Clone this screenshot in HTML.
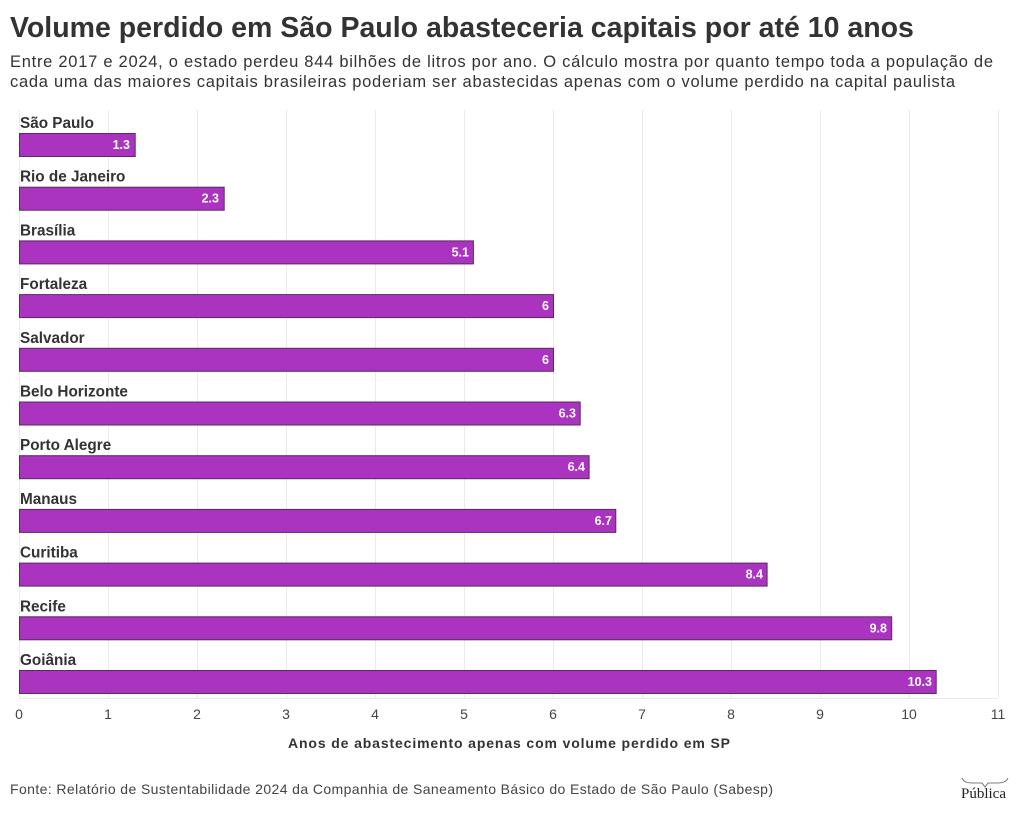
<!DOCTYPE html><html><head><meta charset="utf-8"><style>
body{margin:0;background:#fff;width:1020px;height:812px;overflow:hidden;font-family:"Liberation Sans",sans-serif;color:#333}
</style></head><body>
<svg width="1020" height="812" xmlns="http://www.w3.org/2000/svg" font-family="Liberation Sans, sans-serif">
<text x="10" y="37" font-size="28.5" font-weight="bold" fill="#333">Volume perdido em São Paulo abasteceria capitais por até 10 anos</text>
<text x="10" y="67" font-size="16.5" fill="#333" textLength="983" lengthAdjust="spacing">Entre 2017 e 2024, o estado perdeu 844 bilhões de litros por ano. O cálculo mostra por quanto tempo toda a população de</text>
<text x="10" y="87" font-size="16.5" fill="#333" textLength="945" lengthAdjust="spacing">cada uma das maiores capitais brasileiras poderiam ser abastecidas apenas com o volume perdido na capital paulista</text>
<g stroke="#ebebeb" stroke-width="1">
<line x1="19.5" y1="110" x2="19.5" y2="698"/><line x1="108.5" y1="110" x2="108.5" y2="698"/><line x1="197.5" y1="110" x2="197.5" y2="698"/><line x1="286.5" y1="110" x2="286.5" y2="698"/><line x1="375.5" y1="110" x2="375.5" y2="698"/><line x1="464.5" y1="110" x2="464.5" y2="698"/><line x1="553.5" y1="110" x2="553.5" y2="698"/><line x1="642.5" y1="110" x2="642.5" y2="698"/><line x1="731.5" y1="110" x2="731.5" y2="698"/><line x1="820.5" y1="110" x2="820.5" y2="698"/><line x1="909.5" y1="110" x2="909.5" y2="698"/><line x1="998.5" y1="110" x2="998.5" y2="698"/>
<line x1="19" y1="698.5" x2="998" y2="698.5"/>
</g>
<g font-size="14" fill="#444" text-anchor="middle">
<text x="19" y="719">0</text><text x="108" y="719">1</text><text x="197" y="719">2</text><text x="286" y="719">3</text><text x="375" y="719">4</text><text x="464" y="719">5</text><text x="553" y="719">6</text><text x="642" y="719">7</text><text x="731" y="719">8</text><text x="820" y="719">9</text><text x="909" y="719">10</text><text x="998" y="719">11</text>
</g>
<text x="288" y="748" font-size="14" font-weight="bold" fill="#333" textLength="442" lengthAdjust="spacing">Anos de abastecimento apenas com volume perdido em SP</text>
<g id="bars" font-weight="bold">
<g transform="translate(0,133)"><text x="20" y="-5" font-size="15.3" fill="#333">São Paulo</text><rect x="19.5" y="0.5" width="115.7" height="23" fill="#aa33c0" stroke="#5a2a60"/><text x="130" y="16" font-size="12.5" fill="#fff" text-anchor="end">1.3</text></g>
<g transform="translate(0,186.7)"><text x="20" y="-5" font-size="15.3" fill="#333">Rio de Janeiro</text><rect x="19.5" y="0.5" width="204.7" height="23" fill="#aa33c0" stroke="#5a2a60"/><text x="219" y="16" font-size="12.5" fill="#fff" text-anchor="end">2.3</text></g>
<g transform="translate(0,240.4)"><text x="20" y="-5" font-size="15.3" fill="#333">Brasília</text><rect x="19.5" y="0.5" width="453.9" height="23" fill="#aa33c0" stroke="#5a2a60"/><text x="469" y="16" font-size="12.5" fill="#fff" text-anchor="end">5.1</text></g>
<g transform="translate(0,294.1)"><text x="20" y="-5" font-size="15.3" fill="#333">Fortaleza</text><rect x="19.5" y="0.5" width="534" height="23" fill="#aa33c0" stroke="#5a2a60"/><text x="549" y="16" font-size="12.5" fill="#fff" text-anchor="end">6</text></g>
<g transform="translate(0,347.8)"><text x="20" y="-5" font-size="15.3" fill="#333">Salvador</text><rect x="19.5" y="0.5" width="534" height="23" fill="#aa33c0" stroke="#5a2a60"/><text x="549" y="16" font-size="12.5" fill="#fff" text-anchor="end">6</text></g>
<g transform="translate(0,401.5)"><text x="20" y="-5" font-size="15.3" fill="#333">Belo Horizonte</text><rect x="19.5" y="0.5" width="560.7" height="23" fill="#aa33c0" stroke="#5a2a60"/><text x="576" y="16" font-size="12.5" fill="#fff" text-anchor="end">6.3</text></g>
<g transform="translate(0,455.2)"><text x="20" y="-5" font-size="15.3" fill="#333">Porto Alegre</text><rect x="19.5" y="0.5" width="569.6" height="23" fill="#aa33c0" stroke="#5a2a60"/><text x="585" y="16" font-size="12.5" fill="#fff" text-anchor="end">6.4</text></g>
<g transform="translate(0,508.9)"><text x="20" y="-5" font-size="15.3" fill="#333">Manaus</text><rect x="19.5" y="0.5" width="596.3" height="23" fill="#aa33c0" stroke="#5a2a60"/><text x="612" y="16" font-size="12.5" fill="#fff" text-anchor="end">6.7</text></g>
<g transform="translate(0,562.6)"><text x="20" y="-5" font-size="15.3" fill="#333">Curitiba</text><rect x="19.5" y="0.5" width="747.6" height="23" fill="#aa33c0" stroke="#5a2a60"/><text x="763" y="16" font-size="12.5" fill="#fff" text-anchor="end">8.4</text></g>
<g transform="translate(0,616.3)"><text x="20" y="-5" font-size="15.3" fill="#333">Recife</text><rect x="19.5" y="0.5" width="872.2" height="23" fill="#aa33c0" stroke="#5a2a60"/><text x="887" y="16" font-size="12.5" fill="#fff" text-anchor="end">9.8</text></g>
<g transform="translate(0,670)"><text x="20" y="-5" font-size="15.3" fill="#333">Goiânia</text><rect x="19.5" y="0.5" width="916.7" height="23" fill="#aa33c0" stroke="#5a2a60"/><text x="932" y="16" font-size="12.5" fill="#fff" text-anchor="end">10.3</text></g>
</g>
<text x="10" y="794" font-size="14" fill="#444" textLength="763" lengthAdjust="spacing">Fonte: Relatório de Sustentabilidade 2024 da Companhia de Saneamento Básico do Estado de São Paulo (Sabesp)</text>
<path d="M962 778 q2 5 10 5 h10 l3 4 l3 -4 h10 q8 0 10 -5" fill="none" stroke="#555" stroke-width="0.8"/>
<text x="961" y="798" font-size="15" font-family="Liberation Serif, serif" fill="#222">Pública</text>
</svg>
</body></html>
